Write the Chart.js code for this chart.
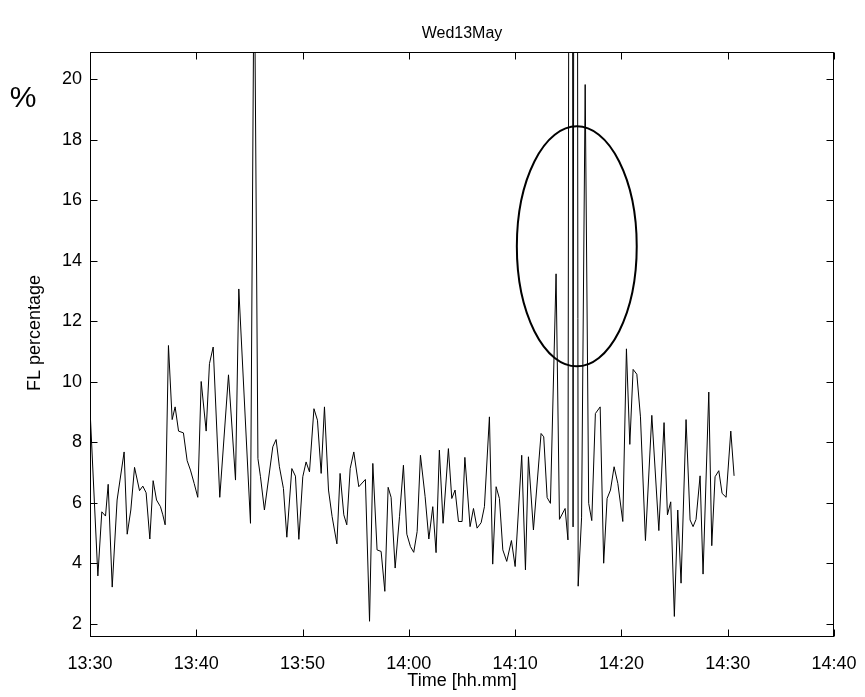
<!DOCTYPE html>
<html><head><meta charset="utf-8">
<script src="https://cdn.jsdelivr.net/npm/chart.js@4.4.0/dist/chart.umd.min.js"></script>
<style>html,body{margin:0;padding:0;background:#fff;overflow:hidden}#wrap{width:865px;height:697px}</style>
</head><body><div id="wrap"><canvas id="c" width="865" height="697"></canvas></div>
<script>
const chartTitle = 'Wed13May';
const xTitle = 'Time [hh.mm]';
const yTitle = 'FL percentage';
const unitLabel = '%';
const xTickLabels = ['13:30','13:40','13:50','14:00','14:10','14:20','14:30','14:40'];
const xTickMinutes = [0,10,20,30,40,50,60,70];
const yTickValues = [2,4,6,8,10,12,14,16,18,20];

// minutes after 13:30
const minutes = [
 0.00,0.74,1.11,1.46,1.71,2.09,2.55,3.21,3.50,3.84,4.19,4.66,4.97,5.28,5.63,5.94,6.26,6.63,6.85,7.07,
 7.38,7.73,8.01,8.33,8.79,9.14,9.45,9.80,10.14,10.46,10.93,11.24,11.59,12.21,13.03,13.69,14.00,
 15.10,15.45,15.80,16.04,16.41,17.20,17.51,17.82,18.20,18.52,18.99,19.33,19.65,20.02,20.33,20.65,
 21.07,21.40,21.75,22.06,22.44,22.78,23.23,23.53,23.88,24.16,24.48,24.82,25.29,25.91,26.30,26.61,27.01,27.39,27.74,
 28.05,28.33,28.71,29.12,29.49,29.81,30.15,30.46,30.78,31.09,31.53,31.88,32.25,32.56,32.87,33.22,33.72,34.04,34.35,34.67,35.01,
 35.27,35.76,36.08,36.42,36.80,37.11,37.58,37.89,38.21,38.52,38.84,39.21,39.65,40.00,40.62,40.97,41.25,41.72,
 42.44,42.69,43.01,43.32,43.85,44.17,44.70,44.97,45.27,45.45,45.70,45.93,46.25,46.59,46.92,47.21,47.55,48.00,48.33,48.65,48.97,49.31,
 49.66,50.13,50.47,50.79,51.10,51.45,51.79,52.26,52.86,53.52,54.01,54.33,54.64,54.98,55.30,55.61,56.08,56.46,56.74,57.02,57.40,57.68,58.22,58.50,58.81,59.16,59.47,59.85,60.29,60.60
];
const flPercent = [
 9.1,3.58,5.70,5.56,6.61,3.21,6.09,7.68,4.96,5.76,7.17,6.40,6.55,6.33,4.80,6.73,6.09,5.87,5.60,5.27,
 11.20,8.75,9.17,8.37,8.31,7.39,7.08,6.64,6.18,10.01,8.37,10.60,11.15,6.18,10.23,6.75,13.07,
 5.32,25,7.46,6.86,5.76,7.85,8.09,7.19,6.47,4.86,7.13,6.88,4.79,6.86,7.35,7.02,
 9.11,8.73,6.97,9.17,6.42,5.54,4.64,6.97,5.60,5.27,7.13,7.68,6.53,6.77,2.08,7.30,4.44,4.39,3.07,
 6.51,6.18,3.84,5.54,7.24,4.96,4.55,4.36,5.05,7.57,6.20,4.80,5.87,4.35,7.74,5.32,7.79,6.14,6.42,5.38,5.38,
 7.50,5.21,5.81,5.16,5.34,5.87,8.84,3.97,6.53,6.14,4.44,4.06,4.75,3.89,7.57,3.78,7.52,5.10,
 8.29,8.18,6.17,5.98,13.57,5.45,5.81,4.77,80,5.2,80,3.24,5.5,19.83,5.98,5.41,8.95,9.17,4.00,6.14,6.42,7.19,
 6.64,5.38,11.09,7.93,10.41,10.25,8.84,4.75,8.89,5.08,8.65,5.60,6.03,2.24,5.76,3.34,8.75,5.43,5.21,5.45,6.89,3.64,9.66,4.58,6.86,7.06,6.31,6.18,8.37,6.89
];
// highlighted region (data units): centre minute, centre %, half-width minutes, half-height %
const ellipseCenter = [45.8, 14.48];
const ellipseRadii = [5.64, 3.97];

const FONT = 'Arial, "Liberation Sans", sans-serif';

const matlabAxes = {
  id: 'matlabAxes',
  afterDatasetsDraw(chart) {
    const {ctx, chartArea: a, scales: {x, y}} = chart;
    ctx.save();
    // ellipse
    const cx = x.getPixelForValue(ellipseCenter[0]);
    const cy = y.getPixelForValue(ellipseCenter[1]);
    const rx = Math.abs(x.getPixelForValue(ellipseCenter[0] + ellipseRadii[0]) - cx);
    const ry = Math.abs(y.getPixelForValue(ellipseCenter[1] + ellipseRadii[1]) - cy);
    ctx.beginPath();
    ctx.ellipse(cx, cy, rx, ry, 0, 0, Math.PI * 2);
    ctx.lineWidth = 2;
    ctx.strokeStyle = '#000';
    ctx.stroke();
    // box
    const L = Math.round(a.left) + 0.5, R = Math.round(a.right) - 0.5;
    const T = Math.round(a.top) + 0.5, B = Math.round(a.bottom) - 0.5;
    ctx.lineWidth = 1;
    ctx.strokeRect(L, T, R - L, B - T);
    // inward ticks on all four sides
    const tl = 7;
    ctx.beginPath();
    x.ticks.forEach(t => {
      const px = Math.round(x.getPixelForValue(t.value)) + 0.5;
      ctx.moveTo(px, B); ctx.lineTo(px, B - tl);
      ctx.moveTo(px, T); ctx.lineTo(px, T + tl);
    });
    y.ticks.forEach(t => {
      const py = Math.round(y.getPixelForValue(t.value)) + 0.5;
      ctx.moveTo(L, py); ctx.lineTo(L + tl, py);
      ctx.moveTo(R, py); ctx.lineTo(R - tl, py);
    });
    ctx.stroke();
    ctx.fillStyle = '#000';
    // unit label
    ctx.font = '30px ' + FONT;
    ctx.textAlign = 'center';
    ctx.textBaseline = 'middle';
    ctx.fillText(unitLabel, 23, 99);
    // y axis title
    ctx.font = '18px ' + FONT;
    ctx.translate(35, 333);
    ctx.rotate(-Math.PI / 2);
    ctx.fillText(yTitle, 0, 0);
    ctx.restore();
  }
};

new Chart(document.getElementById('c'), {
  type: 'line',
  data: {
    datasets: [{
      data: minutes.map((m, i) => ({x: m, y: flPercent[i]})),
      borderColor: '#000',
      borderWidth: 1,
      pointRadius: 0,
      tension: 0,
      fill: false
    }]
  },
  options: {
    responsive: false,
    animation: false,
    devicePixelRatio: 1,
    layout: {padding: {left: 0, right: 31, top: 0, bottom: 0}},
    plugins: {
      legend: {display: false},
      tooltip: {enabled: false},
      title: {
        display: true, text: chartTitle, color: '#000', fullSize: false,
        font: {family: FONT, size: 16, weight: 'normal'},
        padding: {top: 24, bottom: 9}
      }
    },
    scales: {
      x: {
        type: 'linear', min: 0, max: 70,
        afterBuildTicks: s => { s.ticks = xTickMinutes.map(v => ({value: v})); },
        afterFit: s => { s.height = 60; s.paddingLeft = 0; s.paddingRight = 0; },
        grid: {display: false, drawTicks: false, tickLength: 0},
        border: {display: false},
        ticks: {
          color: '#000', font: {family: FONT, size: 18}, padding: 16,
          maxRotation: 0, autoSkip: false,
          callback: v => xTickLabels[xTickMinutes.indexOf(v)]
        },
        title: {display: true, text: xTitle, color: '#000',
          font: {family: FONT, size: 18}, padding: {top: 0, bottom: 5}}
      },
      y: {
        type: 'linear', min: 1.56, max: 20.9,
        afterBuildTicks: s => { s.ticks = yTickValues.map(v => ({value: v})); },
        afterFit: s => { s.width = 90; s.paddingTop = 0; s.paddingBottom = 0; },
        grid: {display: false, drawTicks: false, tickLength: 0},
        border: {display: false},
        ticks: {color: '#000', font: {family: FONT, size: 18}, padding: 8, autoSkip: false,
          callback: v => String(v)},
        title: {display: false}
      }
    }
  },
  plugins: [matlabAxes]
});
</script></body></html>
